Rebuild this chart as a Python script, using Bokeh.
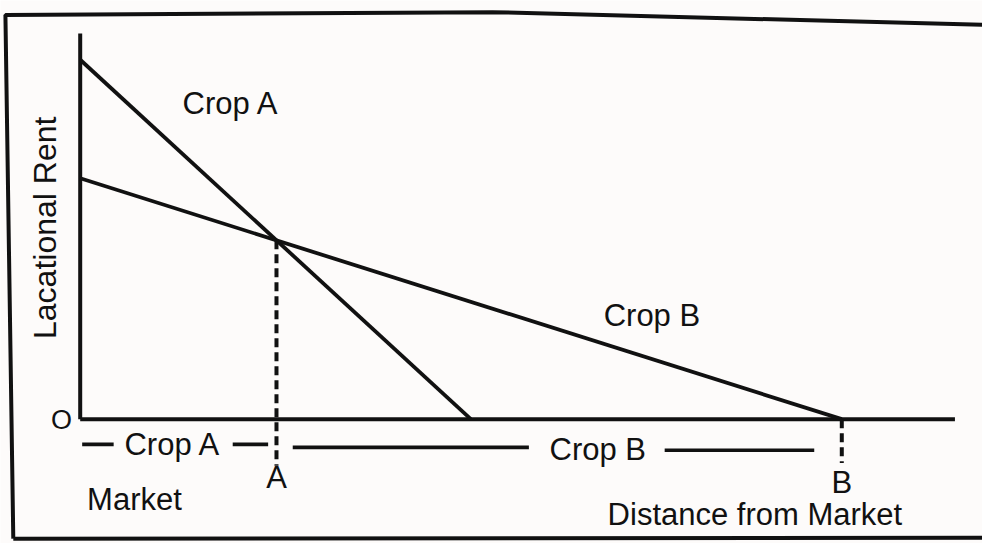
import math
from bokeh.plotting import figure
from bokeh.models import Range1d
from bokeh.core.properties import value
from bokeh.embed import file_html
from bokeh.resources import INLINE

# ---- data (arbitrary units: distance from market, locational rent) ----
crops = ["Crop A", "Crop B"]
rent_at_market = [37.0, 24.8]      # rent where distance = 0
max_distance = [39.7, 77.4]        # distance where rent falls to 0
axis_x_len = 88.9                  # length of distance axis
axis_y_len = 39.7                  # length of rent axis

# ---- derived: where Crop A and Crop B rent lines cross ----
slope = [rent_at_market[i] / max_distance[i] for i in range(2)]
x_A = (rent_at_market[0] - rent_at_market[1]) / (slope[0] - slope[1])
y_A = rent_at_market[0] - slope[0] * x_A
x_B = max_distance[1]

INK = "#111111"
FONT = value("Liberation Sans")
FS = "31px"

p = figure(width=982, height=543, x_range=Range1d(-8.1, 91.7), y_range=Range1d(-12.8, 43.1),
           output_backend="svg", toolbar_location=None, min_border=0,
           x_axis_type=None, y_axis_type=None)
p.grid.visible = False
p.outline_line_color = None
p.background_fill_color = "#fdfbfa"
p.border_fill_color = "#fdfbfa"

# page frame (photographed box)
p.line([-6.8, -7.6, 41.9, 91.7], [-12.3, 41.6, 41.9, 40.6], line_color=INK, line_width=4)
p.line([-6.8, 91.7], [-12.3, -12.2], line_color=INK, line_width=4)

# axes
p.line([0, 0], [axis_y_len, 0], line_color=INK, line_width=4)
p.line([0, axis_x_len], [0, 0], line_color=INK, line_width=4)

# rent lines
for i in range(2):
    p.line([0, max_distance[i]], [rent_at_market[i], 0], line_color=INK, line_width=3.8)

# dashed drop lines
p.line([x_A, x_A], [y_A, -4.8], line_color=INK, line_width=4, line_dash="9 5")
p.line([x_B, x_B], [0, -4.5], line_color=INK, line_width=4, line_dash="9 5")

# zone bars under the axis
p.segment(x0=[0.2, 15.5, 21.6, 59.4], y0=[-2.6, -2.6, -2.9, -3.2],
          x1=[3.4, 19.1, 45.6, 74.6], y1=[-2.6, -2.6, -2.9, -3.2],
          line_color=INK, line_width=3.6)

# labels
p.text(x=[10.4, 53.2, 4.5, 47.7, 0.7, 53.6],
       y=[32.5, 10.7, -2.6, -3.1, -8.3, -9.8],
       text=[crops[0], crops[1], crops[0], crops[1], "Market", "Distance from Market"],
       text_font=FONT, text_font_size=FS, text_align="left",
       text_baseline="alphabetic", text_color=INK)
p.text(x=[x_A, x_B], y=[-6.0, -6.5], text=["A", "B"],
       text_font=FONT, text_font_size=FS, text_align="center",
       text_baseline="alphabetic", text_color=INK)
p.text(x=[-1.9], y=[-0.1], text=["O"],
       text_font=FONT, text_font_size="27px", text_align="center",
       text_baseline="alphabetic", text_color=INK)
p.text(x=[-3.6], y=[19.7], text=["Lacational Rent"], angle=math.pi / 2,
       text_font=FONT, text_font_size="32px", text_align="center",
       text_baseline="alphabetic", text_color=INK)

open("out.html", "w").write(file_html(p, INLINE))
